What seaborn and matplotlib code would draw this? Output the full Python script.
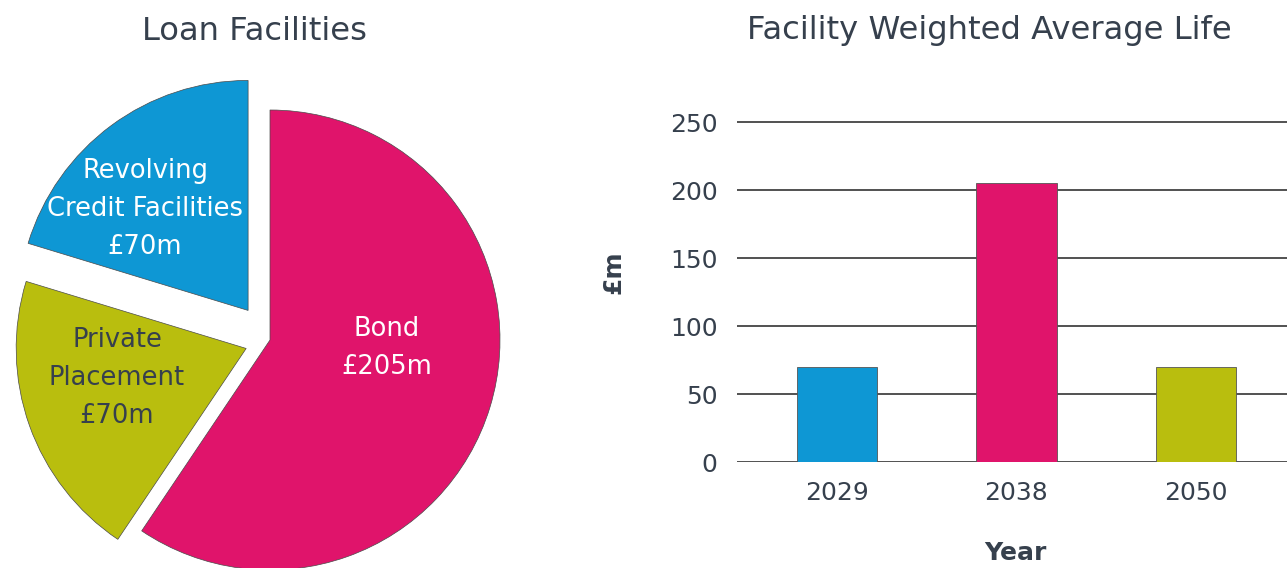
import numpy as np
import pandas as pd
import matplotlib
matplotlib.use("Agg")
import matplotlib.pyplot as plt
import seaborn as sns

# Data
pie_labels = ["Revolving\nCredit Facilities\n£70m", "Private\nPlacement\n£70m", "Bond\n£205m"]
pie_values = [70, 70, 205]
pie_colors = ["#0e97d4", "#b9be0e", "#e0146b"]

years = ["2029", "2038", "2050"]
amounts = [70, 205, 70]
bar_colors = ["#0e97d4", "#e0146b", "#b9be0e"]

text_col = "#36404d"

sns.set_theme(style="white")
plt.rcParams["font.family"] = ["DejaVu Sans"]

W, H = 1287, 568
fig = plt.figure(figsize=(W / 100, H / 100), dpi=100)

# Pie chart: 230 px per data unit, centre at (270, 340) from top-left
r_px = 230
ax1 = fig.add_axes([0, 0, 540 / W, 500 / H])
wedges, _ = ax1.pie(pie_values, colors=pie_colors, startangle=90, counterclock=True,
                    explode=[0.16, 0.11, 0.0],
                    wedgeprops=dict(edgecolor="#4a4a4a", linewidth=0.5))
for w in wedges:
    w.set_clip_on(False)
ax1.set_xlim(-270 / r_px, 270 / r_px)
ax1.set_ylim(-228 / r_px, 272 / r_px)
ax1.set_aspect("auto")
ax1.axis("off")

label_pos = [(145, 209), (117, 378), (387, 348)]
label_cols = ["white", text_col, "white"]
for lab, (px, py), c in zip(pie_labels, label_pos, label_cols):
    ax1.text((px - 270) / r_px, (340 - py) / r_px, lab, ha="center", va="center",
             fontsize=18.5, color=c, linespacing=1.6)

fig.text(255 / W, 1 - 31 / H, "Loan Facilities", ha="center", va="center",
         fontsize=23.2, color=text_col)

# Bar chart
y_top = 252
ax2 = fig.add_axes([737 / W, 106 / H, 550 / W, y_top * 1.36 / H])
df = pd.DataFrame({"Year": years, "£m": amounts})
sns.barplot(data=df, x="Year", y="£m", hue="Year", palette=bar_colors, width=0.447,
            saturation=1, legend=False, ax=ax2, edgecolor="#555555", linewidth=0.6,
            zorder=3)
ax2.set_ylim(0, y_top)
ax2.set_xlim(-0.56, 2.51)
ax2.set_yticks([0, 50, 100, 150, 200, 250])
for v in [0, 50, 100, 150, 200, 250]:
    ax2.axhline(v, color="#333333", linewidth=1.2, zorder=1)
sns.despine(ax=ax2, left=True, bottom=True)
ax2.tick_params(axis="both", length=0, labelsize=18, labelcolor=text_col)
ax2.tick_params(axis="y", pad=14)
ax2.tick_params(axis="x", pad=14)
ax2.set_xlabel("Year", fontsize=18, fontweight="bold", color=text_col)
ax2.set_ylabel("£m", fontsize=18, fontweight="bold", color=text_col)
ax2.xaxis.set_label_coords(0.507, -0.2305)
ax2.yaxis.set_label_coords(-0.2036, 0.554)

fig.text(989 / W, 1 - 31 / H, "Facility Weighted Average Life", ha="center", va="center",
         fontsize=23.2, color=text_col)

fig.savefig("out.png", dpi=100)
